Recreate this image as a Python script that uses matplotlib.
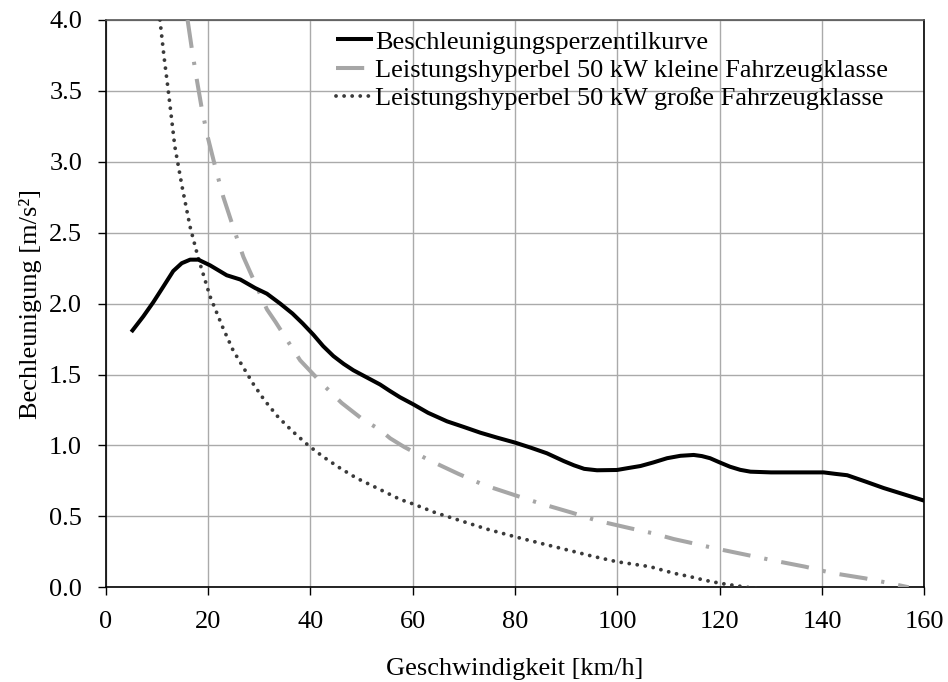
import matplotlib
matplotlib.use("Agg")
import matplotlib.pyplot as plt

plt.rcParams["font.family"] = ["Liberation Serif", "DejaVu Serif"]
plt.rcParams["font.size"] = 19

# Acceleration percentile curve
v_perc = [5, 7.35, 9.3, 11.26, 13.2, 14.86, 16.5, 18.1, 20.4, 23.65, 26.3, 29.2,
          31.5, 34.1, 36.5, 38.5, 40.6, 42.5, 44.5, 46.5, 48.4, 51, 53.6, 55.5,
          57.5, 60.1, 63, 66.7, 70, 73.2, 76.5, 80, 83, 86.2, 89.5, 91.5, 93.5,
          96, 99.9, 102, 104.5, 107, 109.7, 112.3, 114.9, 116.5, 118.1, 120, 122,
          124, 126, 130, 135, 140.3, 142.5, 144.9, 146.5, 148.5, 152, 156, 160]
a_perc = [1.80, 1.91, 2.01, 2.12, 2.23, 2.285, 2.31, 2.31, 2.27, 2.20, 2.17, 2.11,
          2.07, 2.00, 1.93, 1.86, 1.78, 1.70, 1.63, 1.575, 1.53, 1.48, 1.43, 1.385,
          1.34, 1.29, 1.23, 1.17, 1.13, 1.09, 1.055, 1.02, 0.985, 0.945, 0.89,
          0.86, 0.835, 0.825, 0.827, 0.84, 0.855, 0.88, 0.91, 0.927, 0.933, 0.925,
          0.91, 0.88, 0.85, 0.828, 0.815, 0.81, 0.81, 0.81, 0.80, 0.79, 0.77,
          0.745, 0.70, 0.655, 0.61]

# 50 kW power hyperbola, small vehicle class
v_small = [16, 16.9, 17.8, 18.8, 19.9, 21.5, 23, 25, 26.9, 29, 31.5, 33.2, 35.5,
           38, 40.1, 43, 46.1, 50, 53.6, 55.6, 58.3, 63, 68.9, 74, 79.9, 85,
           91.1, 96, 102.5, 107, 111, 113.9, 119, 125.3, 131, 136.7, 142, 148.4,
           153, 156.9]
a_small = [4.0, 3.78, 3.58, 3.37, 3.18, 2.95, 2.75, 2.53, 2.33, 2.16, 1.96, 1.87,
           1.74, 1.60, 1.52, 1.41, 1.30, 1.19, 1.11, 1.05, 0.99, 0.90, 0.80, 0.72,
           0.65, 0.59, 0.526, 0.47, 0.416, 0.38, 0.34, 0.317, 0.275, 0.228, 0.185,
           0.145, 0.10, 0.063, 0.03, 0.0]

# 50 kW power hyperbola, large vehicle class
v_large = [10.6, 11.4, 12.2, 13.5, 14.9, 16.5, 18.1, 20.4, 22.9, 24.9, 26.9, 28.9,
           31, 33.7, 36.5, 39.6, 42.5, 45.8, 49, 53, 57.5, 60.1, 64.5, 69.3, 74.5,
           79.9, 85, 90.8, 95, 99.9, 106.4, 111, 114.2, 117, 120.1, 123, 125.3,
           127.5]
a_large = [4.0, 3.74, 3.51, 3.11, 2.83, 2.54, 2.32, 2.05, 1.83, 1.67, 1.55, 1.43,
           1.32, 1.20, 1.10, 1.00, 0.92, 0.84, 0.77, 0.70, 0.62, 0.587, 0.525,
           0.47, 0.41, 0.357, 0.31, 0.258, 0.22, 0.18, 0.145, 0.099, 0.075, 0.05,
           0.028, 0.012, 0.0, -0.01]

labels = ["Beschleunigungsperzentilkurve",
          "Leistungshyperbel 50 kW kleine Fahrzeugklasse",
          "Leistungshyperbel 50 kW große Fahrzeugklasse"]

x_ticks = [0, 20, 40, 60, 80, 100, 120, 140, 160]
y_ticks = [0.0, 0.5, 1.0, 1.5, 2.0, 2.5, 3.0, 3.5, 4.0]

fig = plt.figure(figsize=(9.48, 6.82), dpi=100)
ax = fig.add_axes([0.1115, 0.1389, 0.8637, 0.8318])

lw = 2.9
ax.plot(v_perc, a_perc, color="black", lw=lw, solid_capstyle="butt",
        solid_joinstyle="round", label=labels[0], zorder=4)
ax.plot(v_small, a_small, color="#a6a6a6", lw=lw, dash_capstyle="butt",
        dash_joinstyle="round", dashes=(7.0, 3.5, 0.8, 3.5),
        label=labels[1], zorder=3)
ax.plot(v_large, a_large, color="#3a3a3a", lw=lw * 0.95, dash_capstyle="round",
        dashes=(0.01, 2.1), label=labels[2], zorder=3)

ax.set_xlim(0, 160)
ax.set_ylim(0, 4)
ax.set_xticks(x_ticks)
ax.set_yticks(y_ticks)
ax.set_yticklabels([f"{t:.1f}" for t in y_ticks])
ax.grid(True, color="#aaaaaa", lw=1.0)
ax.set_axisbelow(True)
ax.tick_params(direction="out", length=6, width=1.0, color="black", pad=11)

for side in ["left", "bottom", "right"]:
    ax.spines[side].set_color("black")
    ax.spines[side].set_linewidth(1.2)
ax.spines["top"].set_color("#555555")
ax.spines["top"].set_linewidth(1.2)

ax.set_xlabel("Geschwindigkeit [km/h]", labelpad=18)
ax.set_ylabel("Bechleunigung [m/s²]", labelpad=5)

ax.legend(loc="upper left", bbox_to_anchor=(0.281, 0.982), frameon=False,
          borderpad=0, borderaxespad=0, handlelength=1.4, handletextpad=0.1,
          labelspacing=0.175)

fig.savefig("out.png", dpi=100)
